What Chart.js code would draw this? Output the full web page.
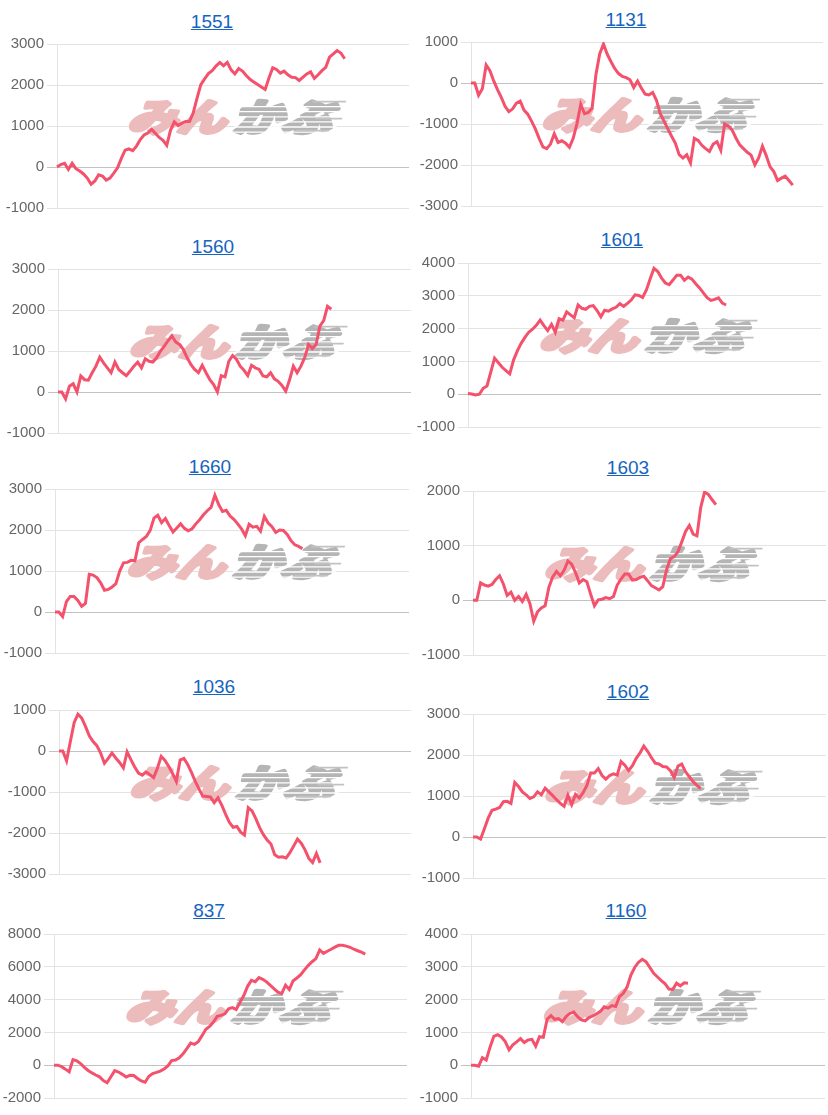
<!DOCTYPE html>
<html>
<head>
<meta charset="utf-8">
<title>損益推移</title>
<script src="https://cdn.jsdelivr.net/npm/chart.js@4.4.1/dist/chart.umd.min.js"></script>
<style>
    body {
        margin: 0;
        width: 828px;
        height: 1115px;
        background: #fff;
        position: relative;
        overflow: hidden;
        font-family: Arial, "Liberation Sans", sans-serif;
    }
    .ttl {
        position: absolute;
        width: 200px;
        text-align: center;
        font-size: 19px;
        line-height: 24px;
    }
    .ttl a { color: #1565c0; text-decoration: underline; }
    canvas { position: absolute; }
</style>
</head>
<body>
<script>
// x slots (hidden axis)
var days = Array.from({ length: 94 }, function (_, i) { return i + 1; });

var codes = ['1551', '1131', '1560', '1601', '1660', '1603', '1036', '1602', '837', '1160'];

var s1551 = [0, 60, 90, -60, 90, -40, -100, -170, -270, -420, -340, -190, -220, -320, -270, -150, -20, 210, 410, 440,
    400, 510, 670, 780, 830, 920, 820, 720, 650, 530, 900, 1100, 1010, 1070, 1110, 1110, 1320, 1680, 2010, 2150,
    2280, 2350, 2460, 2550, 2470, 2550, 2370, 2270, 2400, 2340, 2230, 2140, 2070, 2010, 1950, 1890, 2170, 2420, 2380, 2290,
    2340, 2250, 2190, 2180, 2110, 2190, 2270, 2320, 2160, 2250, 2350, 2430, 2680, 2760, 2840, 2780, 2640];
var s1131 = [0, 0, -300, -140, 440, 300, 50, -160, -350, -570, -700, -630, -490, -440, -660, -760, -930, -1120, -1350, -1560,
    -1600, -1490, -1240, -1450, -1410, -1470, -1570, -1350, -990, -520, -750, -720, -610, 200, 710, 950, 700, 520, 350, 230,
    160, 130, 80, -110, 50, -120, -270, -290, -230, -420, -750, -930, -1120, -1300, -1470, -1750, -1830, -1750, -1950, -1350,
    -1400, -1520, -1600, -1670, -1490, -1430, -1640, -1000, -1050, -1150, -1340, -1510, -1600, -1690, -1760, -2000, -1830, -1540, -1770, -2040,
    -2160, -2380, -2320, -2270, -2380, -2490];
var s1560 = [0, 0, -170, 140, 200, 0, 390, 300, 290, 470, 630, 850, 710, 590, 470, 730, 550, 470, 400, 510,
    630, 730, 590, 810, 750, 730, 840, 1000, 1120, 1250, 1370, 1220, 1160, 1040, 840, 670, 550, 470, 650, 470,
    300, 180, 0, 400, 370, 750, 890, 800, 630, 530, 400, 650, 590, 550, 390, 370, 470, 320, 260, 160,
    20, 290, 630, 470, 630, 840, 1160, 1060, 1160, 1610, 1740, 2090, 2020];
var s1601 = [20, 5, -20, 0, 180, 250, 670, 1100, 960, 820, 720, 620, 1040, 1320, 1550, 1730, 1890, 1980, 2100, 2260,
    2090, 1940, 2130, 1890, 2300, 2260, 2510, 2420, 2330, 2720, 2620, 2590, 2680, 2700, 2550, 2360, 2560, 2530, 2600, 2650,
    2760, 2680, 2770, 2870, 3030, 3010, 2950, 3180, 3520, 3840, 3740, 3540, 3390, 3340, 3480, 3630, 3630, 3470, 3570, 3510,
    3370, 3240, 3090, 2940, 2860, 2890, 2940, 2780, 2720];
var s1660 = [0, 0, -110, 250, 380, 380, 280, 140, 210, 920, 900, 840, 710, 530, 550, 610, 690, 1000, 1200, 1210,
    1260, 1250, 1690, 1770, 1840, 1990, 2290, 2360, 2180, 2280, 2110, 1950, 2050, 2150, 2040, 1980, 2030, 2150, 2250, 2370,
    2470, 2550, 2850, 2620, 2450, 2480, 2340, 2260, 2150, 2030, 1860, 2140, 2070, 2090, 1970, 2330, 2170, 2080, 1940, 2000,
    1990, 1890, 1740, 1640, 1600, 1540];
var s1603 = [0, 0, 320, 280, 260, 290, 380, 450, 300, 90, 150, 0, 70, -20, 110, -60, -380, -210, -140, -100,
    240, 430, 530, 450, 550, 720, 660, 510, 320, 380, 340, 110, -100, 10, 20, 50, 30, 70, 280, 390,
    480, 480, 370, 380, 420, 440, 360, 270, 230, 190, 250, 560, 760, 800, 890, 1070, 1260, 1370, 1210, 1180,
    1700, 1980, 1940, 1840, 1750];
var s1036 = [0, 0, -240, 230, 690, 900, 800, 600, 370, 230, 130, -50, -300, -180, -50, -170, -280, -410, -20, -210,
    -390, -540, -590, -510, -580, -650, -420, -130, -230, -380, -550, -740, -220, -180, -330, -520, -740, -930, -1100, -1110,
    -1120, -1260, -1140, -1320, -1540, -1740, -1860, -1840, -1980, -2050, -1380, -1460, -1650, -1870, -2040, -2170, -2270, -2530, -2590, -2580,
    -2610, -2480, -2320, -2150, -2250, -2410, -2620, -2720, -2500, -2730];
var s1602 = [0, 0, -50, 200, 460, 650, 680, 720, 860, 870, 820, 1330, 1230, 1100, 1030, 940, 980, 1100, 1030, 1190,
    1100, 1010, 910, 820, 750, 1020, 790, 1040, 950, 1080, 1260, 1560, 1560, 1670, 1500, 1410, 1500, 1540, 1510, 1840,
    1750, 1620, 1740, 1920, 2050, 2220, 2090, 1940, 1800, 1780, 1720, 1710, 1620, 1450, 1730, 1780, 1590, 1470, 1350, 1260,
    1180];
var s837 = [0, 0, -90, -240, -400, 340, 270, 100, -130, -320, -470, -600, -710, -940, -1070, -700, -330, -420, -560, -720,
    -620, -630, -810, -960, -1040, -670, -510, -440, -360, -230, -40, 280, 320, 450, 690, 1010, 1350, 1270, 1440, 1800,
    2190, 2360, 2630, 2980, 3040, 3130, 3440, 3510, 3400, 3830, 4250, 4810, 5170, 5090, 5340, 5240, 5080, 4870, 4660, 4450,
    4360, 4880, 4620, 5150, 5320, 5520, 5810, 6090, 6310, 6500, 7030, 6820, 6950, 7070, 7200, 7310, 7310, 7260, 7190, 7070,
    6980, 6890, 6770];
var s1160 = [0, 0, -30, 230, 160, 550, 880, 930, 860, 720, 470, 620, 710, 810, 690, 770, 790, 580, 870, 850,
    1400, 1510, 1400, 1420, 1330, 1480, 1580, 1620, 1480, 1380, 1350, 1450, 1500, 1570, 1640, 1780, 1740, 1820, 1790, 2090,
    2190, 2380, 2750, 2980, 3140, 3230, 3150, 2980, 2800, 2690, 2580, 2480, 2320, 2310, 2500, 2420, 2510, 2500];

var series = [s1551, s1131, s1560, s1601, s1660, s1603, s1036, s1602, s837, s1160];

// y tick range per chart
var yMin = [-1000, -3000, -1000, -1000, -1000, -1000, -3000, -1000, -2000, -1000];
var yMax = [3000, 1000, 3000, 4000, 3000, 2000, 1000, 3000, 8000, 4000];
var yStep = [1000, 1000, 1000, 1000, 1000, 1000, 1000, 1000, 2000, 1000];

// layout: plot left, plot top, plot right, title centre x, title centre y
var boxes = [
    [57, 44, 409, 212, 22], [471, 42, 823, 626, 20],
    [58, 269, 411, 213, 247], [468, 263, 821, 622, 240],
    [55, 489, 409, 210, 467], [473, 491, 826, 628, 468],
    [59, 710, 411, 214, 687], [473, 714, 826, 628, 692],
    [54, 934, 407, 209, 911], [471, 934, 825, 626, 911]
];
var AXW = 55, PAD = 12, PLOTH = 164;

// みんかぶ watermark behind the line
var watermark = {
    id: 'watermark',
    beforeDatasetsDraw: function (chart) {
        var a = chart.chartArea, ctx = chart.ctx;
        var cx = (a.left + a.right) / 2, cy = (a.top + a.bottom) / 2 - 9;
        ctx.save();
        ctx.translate(cx, cy);
        ctx.transform(1.12, 0, -0.3, 0.85, 0, 0);
        ctx.font = 'bold 44px "Noto Sans CJK JP"';
        ctx.textBaseline = 'middle';
        ctx.lineJoin = 'round';
        ctx.lineWidth = 5;
        ctx.fillStyle = ctx.strokeStyle = '#ecbcbc';
        ctx.textAlign = 'right';
        ctx.strokeText('みん', -2, 0);
        ctx.fillText('みん', -2, 0);
        ctx.fillStyle = ctx.strokeStyle = '#b5b5b5';
        ctx.textAlign = 'left';
        ctx.strokeText('かぶ', 4, 0);
        ctx.fillText('かぶ', 4, 0);
        ctx.fillStyle = '#fff';
        for (var k = -13; k <= 17; k += 6) {
            ctx.fillRect(4, k, 92, 1.5);
        }
        ctx.fillStyle = '#c2c2c2';
        ctx.fillRect(66, -19, 30, 2);
        ctx.fillRect(74, 1, 24, 2);
        ctx.fillRect(60, 15, 30, 2);
        ctx.restore();
    }
};

codes.forEach(function (code, n) {
    var b = boxes[n];

    var t = document.createElement('div');
    t.className = 'ttl';
    t.style.left = (b[3] - 100) + 'px';
    t.style.top = (b[4] - 12) + 'px';
    t.innerHTML = '<a href="#">' + code + '</a>';
    document.body.appendChild(t);

    var cv = document.createElement('canvas');
    var left = b[0] - AXW, top = b[1] - PAD;
    cv.width = b[2] - left;
    cv.height = PLOTH + PAD * 2;
    cv.style.left = left + 'px';
    cv.style.top = top + 'px';
    document.body.appendChild(cv);

    new Chart(cv, {
        type: 'line',
        data: {
            labels: days,
            datasets: [{
                label: code,
                data: series[n],
                borderColor: '#f4516c',
                borderWidth: 3,
                pointRadius: 0,
                tension: 0,
                fill: false
            }]
        },
        options: {
            responsive: false,
            animation: false,
            layout: { padding: 0 },
            plugins: {
                legend: { display: false },
                tooltip: { enabled: false }
            },
            scales: {
                x: { display: false },
                y: {
                    min: yMin[n],
                    max: yMax[n],
                    afterFit: function (s) { s.width = AXW; },
                    ticks: {
                        stepSize: yStep[n],
                        color: '#666',
                        padding: 3,
                        font: { size: 15, family: 'Arial' },
                        callback: function (v) { return String(v); }
                    },
                    grid: {
                        tickLength: 10,
                        color: function (c) {
                            return c.tick && c.tick.value === 0 ? '#c2c2c2' : '#e3e3e3';
                        }
                    },
                    border: { color: '#e3e3e3' }
                }
            }
        },
        plugins: [watermark]
    });
});
</script>
</body>
</html>
